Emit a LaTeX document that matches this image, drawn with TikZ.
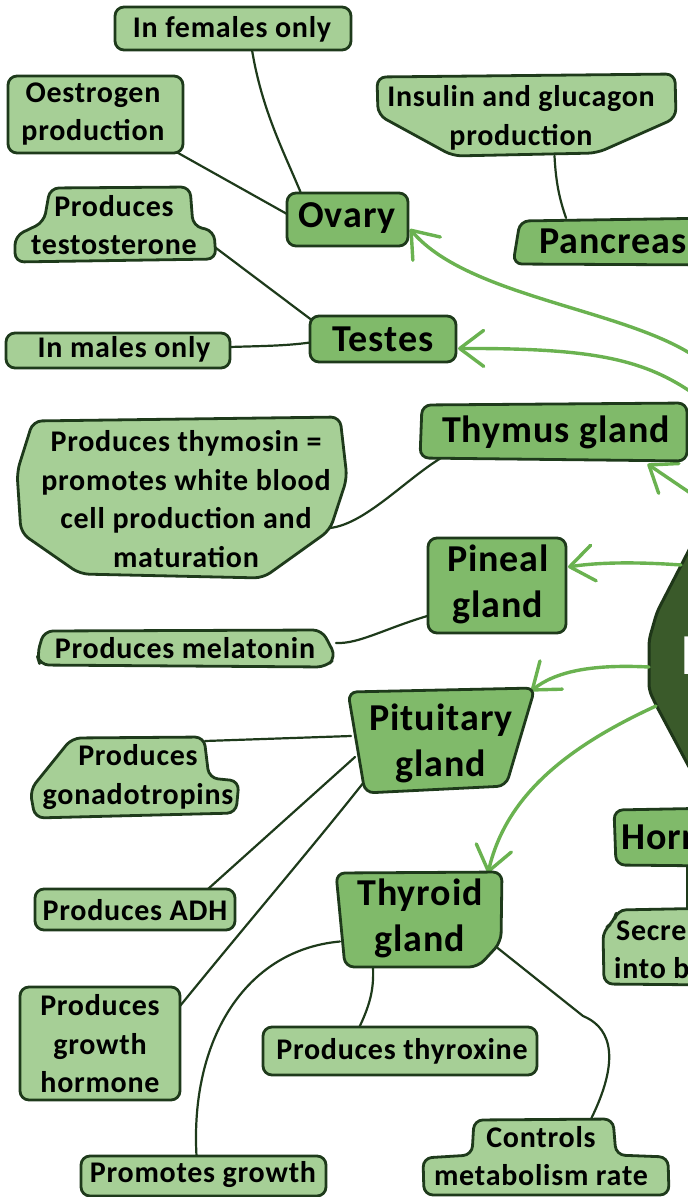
\documentclass[tikz,border=0pt]{standalone}
\usepackage{fontspec}
\setmainfont{Carlito}
\newfontfamily\leaffam{Carlito}[LetterSpace=2.5]
\newfontfamily\mainfam{Carlito}[LetterSpace=2.5]
\usetikzlibrary{arrows.meta,calc}
\definecolor{leaffill}{HTML}{A6CF96}
\definecolor{mainfill}{HTML}{80BA6A}
\definecolor{edgec}{HTML}{1E3A1B}
\definecolor{hubfill}{HTML}{3A5A2A}
\definecolor{hubedge}{HTML}{1E3618}
\definecolor{arrowg}{HTML}{6AB250}
\newcommand\lfnt{\leaffam\fontsize{30}{38.5}\selectfont\bfseries}
\newcommand\mfnt{\mainfam\fontsize{38}{46}\selectfont\bfseries}
\newcommand\hfnt{\fontsize{58}{60}\selectfont\bfseries}
\begin{document}
\begin{tikzpicture}[x=1pt,y=-1pt,
  anchorbox/.style={draw=none, inner sep=0pt, outer sep=0pt, rectangle},
  leafshape/.style={fill=leaffill, draw=edgec, line width=2.8pt, rounded corners=9pt, line join=round},
  mainshape/.style={fill=mainfill, draw=edgec, line width=2.8pt, rounded corners=9pt, line join=round},
  hubshape/.style={fill=hubfill, draw=hubedge, line width=3pt, rounded corners=6pt, line join=round},
  link/.style={draw=edgec, line width=2.2pt, line cap=round},
  glink/.style={draw=arrowg, line width=3.4pt, line cap=round, -{Straight Barb[length=24pt,width=36pt,round]}},
  ltext/.style={font=\lfnt, align=center, inner sep=0pt, text=black},
  mtext/.style={font=\mfnt, align=center, inner sep=0pt, text=black}
]
\useasboundingbox (0,0) rectangle (688,1197);
\clip (0,0) rectangle (688,1197);

% ---------- anchor boxes (named nodes) ----------
\node[anchorbox, minimum width=236pt, minimum height=43pt] (fem) at (233,28.5) {};
\node[anchorbox, minimum width=175pt, minimum height=77pt] (oes) at (95.5,114.5) {};
\node[anchorbox, minimum width=202pt, minimum height=75pt] (testo) at (115,225) {};
\node[anchorbox, minimum width=224pt, minimum height=36pt] (males) at (118,350) {};
\node[anchorbox, minimum width=332pt, minimum height=162pt] (thymo) at (182,497) {};
\node[anchorbox, minimum width=299pt, minimum height=40pt] (mel) at (186.5,648) {};
\node[anchorbox, minimum width=210pt, minimum height=82pt] (gon) at (135,777) {};
\node[anchorbox, minimum width=200pt, minimum height=41pt] (adh) at (135,909.5) {};
\node[anchorbox, minimum width=160pt, minimum height=113pt] (gh) at (100,1043.5) {};
\node[anchorbox, minimum width=274pt, minimum height=48pt] (thyx) at (400,1051) {};
\node[anchorbox, minimum width=246pt, minimum height=40pt] (pg) at (203.5,1176) {};
\node[anchorbox, minimum width=246pt, minimum height=76pt] (cmr) at (546,1157) {};
\node[anchorbox, minimum width=299pt, minimum height=82pt] (ins) at (526.5,115) {};
\node[anchorbox, minimum width=118pt, minimum height=77pt] (sec) at (661,946.5) {};

\node[anchorbox, minimum width=121pt, minimum height=54pt] (ovary) at (347.5,219) {};
\node[anchorbox, minimum width=194pt, minimum height=48pt] (panc) at (610,242) {};
\node[anchorbox, minimum width=146pt, minimum height=47pt] (testes) at (383,338.5) {};
\node[anchorbox, minimum width=267pt, minimum height=58pt] (thymus) at (553.5,432) {};
\node[anchorbox, minimum width=138pt, minimum height=96pt] (pineal) at (497,585) {};
\node[anchorbox, minimum width=188pt, minimum height=102pt] (pit) at (441,741) {};
\node[anchorbox, minimum width=166pt, minimum height=95pt] (thyroid) at (419,919.5) {};
\node[anchorbox, minimum width=92pt, minimum height=58pt] (horm) at (660,837) {};

\coordinate (hubA) at (705,364);
\coordinate (hubB) at (705,402);
\coordinate (hubC) at (705,503);
\coordinate (hubD) at (681,565);
\coordinate (hubE) at (649,667);
\coordinate (hubF) at (656,706);

% ---------- dark connectors ----------
\draw[link] ($(fem.south)+(19,0)$) .. controls (262,110) and (283,150) .. ($(ovary.north)+(-47,0)$);
\draw[link] ($(oes.south east)+(-12,-4)$) -- ($(ovary.west)+(0,-5)$);
\draw[link] ($(testo.east)+(0,23)$) -- ($(testes.north west)+(3,6)$);
\draw[link] ($(males.east)+(0,-3)$) .. controls (260,346) and (285,346) .. ($(testes.west)+(0,4)$);
\draw[link] ($(ins.south)+(28,0)$) .. controls (556,185) and (560,200) .. ($(panc.north)+(-44,0)$);
\draw[link] ($(thymo.east)+(-18,31)$) .. controls (365,524) and (405,480) .. ($(thymus.south west)+(21,-3)$);
\draw[link] ($(mel.east)+(0,-5)$) .. controls (360,644) and (385,628) .. ($(pineal.west)+(6,29)$);
\draw[link] ($(gon.north east)+(-35,5)$) -- ($(pit.west)+(4,-5)$);
\draw[link] ($(adh.north east)+(-27,0)$) -- ($(pit.west)+(8,16)$);
\draw[link] ($(gh.north east)+(0,19)$) .. controls (250,920) and (310,850) .. ($(pit.south west)+(17,-10)$);
\draw[link] ($(thyx.north)+(-42,3)$) .. controls (370,1005) and (374,990) .. ($(thyroid.south)+(-46,0)$);
\draw[link] ($(pg.north)+(-7,0)$) .. controls (190,1040) and (245,950) .. ($(thyroid.west)+(4,22)$);
\draw[link] ($(thyroid.east)+(-5,28)$) -- (583,1016) .. controls (605,1025) and (625,1050) .. ($(cmr.north)+(45,0)$);
\draw[link] ($(horm.south)+(27,0)$) -- ($(sec.north)+(26,0)$);

% ---------- hub ----------
\path[hubshape] (720,490) -- (657,612) -- (649,640) -- (649,690) -- (656,705) -- (720,825) -- (800,825) -- (800,490) -- cycle;
\node[anchor=west, inner sep=0pt, font=\hfnt, text=white] (hubtext) at (681,656) {E};

% ---------- green arrows ----------
\draw[glink] (hubA) .. controls (640,310) and (470,300) .. ($(ovary.east)+(2,10)$);
\draw[glink] (hubB) .. controls (650,360) and (600,348) .. ($(testes.east)+(2,10)$);
\draw[glink] (hubC) -- ($(thymus.south)+(94,3)$);
\draw[glink] (hubD) .. controls (640,562) and (600,562) .. ($(pineal.east)+(2,-18)$);
\draw[glink] (hubE) .. controls (590,664) and (555,672) .. ($(pit.north east)+(-4,1)$);
\draw[glink] (hubF) .. controls (560,750) and (505,800) .. ($(thyroid.north east)+(-14,1)$);

% ---------- leaf shapes ----------
\path[leafshape] (115,7) rectangle (351,50);
\path[leafshape] (8,76) rectangle (183,153);
\path[leafshape] (50,188) -- (190,187) -- (193,226) -- (214,231) -- (216,259) -- (15,262) -- (15,236) -- (44,222) -- cycle;
\path[leafshape] (6,333) rectangle (230,368);
\path[leafshape] (33,421) -- (340,417) -- (347,478) -- (330,530) -- (263,578) -- (80,574) -- (21,533) -- (17,472) -- cycle;
\path[leafshape] (44,631) -- (322,630) -- (336,657) -- (326,667) -- (40,665) -- (37,655) -- cycle;
\path[leafshape] (72,738) -- (204,737) -- (209,778) -- (239,781) -- (236,813) -- (35,818) -- (30,790) -- cycle;
\path[leafshape] (35,889) rectangle (235,930);
\path[leafshape] (20,987) rectangle (180,1100);
\path[leafshape] (263,1027) rectangle (537,1075);
\path[leafshape] (81,1156) rectangle (326,1196);
\path[leafshape] (474,1120) -- (613,1119) -- (616,1155) -- (668,1157) -- (669,1195) -- (424,1195) -- (423,1158) -- (472,1155) -- cycle;
\path[leafshape] (377,77) -- (675,74) -- (676,118) -- (597,153) -- (453,156) -- (378,115) -- cycle;
\path[leafshape] (617,910) -- (720,908) -- (720,985) -- (604,984) -- (603,930) -- (614,922) -- cycle;

% ---------- main shapes ----------
\path[mainshape] (287,193) rectangle (408,246);
\path[mainshape] (520,221) -- (720,218) -- (720,265) -- (513,264) -- cycle;
\path[mainshape] (310,316) rectangle (456,362);
\path[mainshape] (422,405) -- (687,403) -- (687,461) -- (420,458) -- cycle;
\path[mainshape] (428,538) rectangle (566,633);
\path[mainshape] (348,692) -- (535,688) -- (506,786) -- (365,793) -- cycle;
\path[mainshape] (336,873) -- (502,872) -- (501,942) -- (478,967) -- (345,967) -- cycle;
\path[mainshape] (614,810) -- (720,808) -- (720,866) -- (616,865) -- cycle;

% ---------- texts ----------
\node[ltext] (t-fem) at (232,29) {In females only};
\node[ltext] (t-oes) at (93,114) {Oestrogen\\production};
\node[ltext] (t-testo) at (114,225) {Produces\\testosterone};
\node[ltext] (t-males) at (124,349) {In males only};
\node[ltext] (t-thymo) at (186,499) {Produces thymosin =\\promotes white blood\\cell production and\\maturation};
\node[ltext] (t-mel) at (185,648) {Produces melatonin};
\node[ltext] (t-gon) at (138,777) {Produces\\gonadotropins};
\node[ltext] (t-adh) at (135,910) {Produces ADH};
\node[ltext] (t-gh) at (100,1044) {Produces\\growth\\hormone};
\node[ltext] (t-thyx) at (402,1051) {Produces thyroxine};
\node[ltext] (t-pg) at (203,1175) {Promotes growth};
\node[ltext] (t-cmr) at (541,1156) {Controls\\metabolism rate};
\node[ltext] (t-ins) at (521,118) {Insulin and glucagon\\production};
\node[ltext, anchor=west, align=left] (t-sec) at (614,950) {\hspace*{2pt}Secre\\into b};

\node[mtext] (t-ovary) at (347,218) {Ovary};
\node[mtext, anchor=west] (t-panc) at (539,241) {Pancreas};
\node[mtext] (t-testes) at (383,339) {Testes};
\node[mtext] (t-thymus) at (556,432) {Thymus gland};
\node[mtext] (t-pineal) at (498,584) {Pineal\\gland};
\node[mtext] (t-pit) at (441,743) {Pituitary\\gland};
\node[mtext] (t-thyroid) at (420,918) {Thyroid\\gland};
\node[mtext, anchor=west] (t-horm) at (621,837) {Horm};
\end{tikzpicture}
\end{document}
